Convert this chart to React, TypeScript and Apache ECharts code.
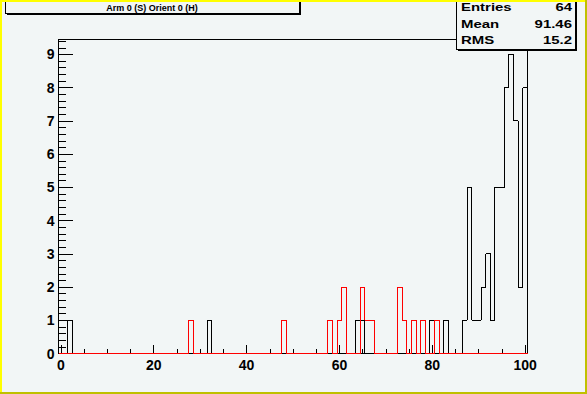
import React, { useEffect, useRef } from 'react';
import * as echarts from 'echarts';

// Histogram bins (bin centres, 1 unit wide, range -0.5..100.5) and counts
const blackBins = [2, 32, 64, 65, 80, 83, 87, 88, 89, 90, 91, 92, 93, 94, 95, 96, 97, 98, 99, 100];
const blackCounts = [1, 1, 1, 1, 1, 1, 1, 5, 1, 1, 2, 3, 1, 5, 5, 8, 9, 7, 2, 8];
const redBins = [28, 48, 58, 60, 61, 65, 66, 67, 73, 74, 76, 78, 81];
const redCounts = [1, 1, 1, 1, 2, 2, 1, 1, 2, 1, 1, 1, 1];

const title = 'Arm 0 (S) Orient 0 (H)';
const statNames = ['Entries', 'Mean', 'RMS'];
const statValues = ['64', '91.46', '15.2'];

const NBINS = 101;
const XMIN = -0.5;
const XMAX = 100.5;
const YMAX = 9.45;

function stepData(bins: number[], counts: number[]) {
  const full = new Array(NBINS).fill(0);
  bins.forEach((b, i) => {
    full[b] = counts[i];
  });
  const pts: number[][] = full.map((c, i) => [i + XMIN, c]);
  pts.push([XMAX, 0]);
  return pts;
}

const BG = '#f2f6f6';
const FONT = 'Liberation Sans, Arial, Helvetica, sans-serif';

export default function App() {
  const ref = useRef<HTMLDivElement>(null);
  useEffect(() => {
    if (!ref.current) return;
    const chart = echarts.init(ref.current, undefined, { renderer: 'svg' });

    const L = 58.5;
    const T = 39.5;
    const W = 469;
    const H = 314;
    const B = T + H;
    const bw = W / (XMAX - XMIN);
    const uh = H / YMAX;

    const noAxis = { show: false, type: 'value' as const };
    const tickLbl = {
      color: '#000',
      fontSize: 14,
      fontWeight: 'bold' as const,
      fontFamily: FONT,
    };

    const statText: any[] = [];
    const rowY = [7, 24, 40.5];
    statNames.forEach((n, i) => {
      statText.push({
        type: 'text',
        x: 461,
        y: rowY[i],
        scaleX: 1.3,
        z: 110,
        style: {
          text: n,
          fill: '#000',
          font: `bold 11.5px ${FONT}`,
          textAlign: 'left',
          textVerticalAlign: 'middle',
          align: 'left',
          verticalAlign: 'middle',
        },
      });
      statText.push({
        type: 'text',
        x: 572,
        y: rowY[i],
        scaleX: 1.3,
        z: 110,
        style: {
          text: statValues[i],
          fill: '#000',
          font: `bold 11.5px ${FONT}`,
          textAlign: 'right',
          textVerticalAlign: 'middle',
          align: 'right',
          verticalAlign: 'middle',
        },
      });
    });

    const option: any = {
      animation: false,
      backgroundColor: BG,
      grid: [
        { left: L, top: T, width: W, height: H, show: true, borderColor: '#000', borderWidth: 1, backgroundColor: 'transparent', containLabel: false, outerBoundsMode: 'none' },
        { left: L + 0.5 * bw, top: T, width: 100 * bw, height: H, containLabel: false, outerBoundsMode: 'none' },
        { left: L, top: B - 9 * uh, width: W, height: 9 * uh, containLabel: false, outerBoundsMode: 'none' },
        { left: L, top: B - 9.4 * uh, width: W, height: 9.4 * uh, containLabel: false, outerBoundsMode: 'none' },
      ],
      xAxis: [
        { gridIndex: 0, type: 'value', min: XMIN, max: XMAX, show: false },
        {
          gridIndex: 1,
          type: 'value',
          min: 0,
          max: 100,
          interval: 20,
          axisLine: { show: false },
          splitLine: { show: false },
          axisTick: { show: true, inside: true, length: 9, lineStyle: { color: '#000', width: 1 } },
          minorTick: { show: true, splitNumber: 4, length: 4.5, lineStyle: { color: '#000', width: 1 } },
          axisLabel: { ...tickLbl, margin: 4 },
        },
        { gridIndex: 2, ...noAxis },
        { gridIndex: 3, ...noAxis },
      ],
      yAxis: [
        { gridIndex: 0, type: 'value', min: 0, max: YMAX, show: false },
        { gridIndex: 1, ...noAxis },
        {
          gridIndex: 2,
          type: 'value',
          min: 0,
          max: 9,
          interval: 1,
          axisLine: { show: false },
          splitLine: { show: false },
          axisTick: { show: true, inside: true, length: 14, lineStyle: { color: '#000', width: 1 } },
          axisLabel: { ...tickLbl, margin: 4 },
        },
        {
          gridIndex: 3,
          type: 'value',
          min: 0,
          max: 9.4,
          interval: 0.2,
          axisLine: { show: false },
          splitLine: { show: false },
          axisTick: { show: true, inside: true, length: 7, lineStyle: { color: '#000', width: 1 } },
          axisLabel: { show: false },
        },
      ],
      series: [
        {
          type: 'line',
          xAxisIndex: 0,
          yAxisIndex: 0,
          step: 'end',
          data: stepData(blackBins, blackCounts),
          showSymbol: false,
          symbol: 'none',
          clip: false,
          lineStyle: { color: '#000', width: 1 },
          z: 3,
        },
        {
          type: 'line',
          xAxisIndex: 0,
          yAxisIndex: 0,
          step: 'end',
          data: stepData(redBins, redCounts),
          showSymbol: false,
          symbol: 'none',
          clip: false,
          lineStyle: { color: '#ff0000', width: 1 },
          z: 4,
        },
      ],
      graphic: [
        // title pave
        { type: 'rect', z: 100, shape: { x: 7, y: -10, width: 294, height: 25 }, style: { fill: '#000' } },
        { type: 'rect', z: 101, shape: { x: 5.5, y: -10, width: 293.5, height: 23.5 }, style: { fill: BG, stroke: '#000', lineWidth: 1 } },
        {
          type: 'text',
          z: 102,
          x: 152,
          y: 8,
          style: {
            text: title,
            fill: '#000',
            font: `bold 9px ${FONT}`,
            textAlign: 'center',
            textVerticalAlign: 'middle',
            align: 'center',
            verticalAlign: 'middle',
          },
        },
        // stats pave
        { type: 'rect', z: 100, shape: { x: 458, y: -10, width: 119, height: 61 }, style: { fill: '#000' } },
        { type: 'rect', z: 101, shape: { x: 456.5, y: -10, width: 119, height: 59.5 }, style: { fill: BG, stroke: '#000', lineWidth: 1 } },
        ...statText,
        // canvas highlight border
        { type: 'rect', z: 200, shape: { x: 0, y: 0, width: 587, height: 2 }, style: { fill: '#ffff00' } },
        { type: 'rect', z: 200, shape: { x: 0, y: 0, width: 2, height: 394 }, style: { fill: '#ffff00' } },
        { type: 'rect', z: 201, shape: { x: 0, y: 392, width: 587, height: 2 }, style: { fill: '#c0c000' } },
        { type: 'rect', z: 201, shape: { x: 585, y: 0, width: 2, height: 394 }, style: { fill: '#c0c000' } },
      ],
    };
    chart.setOption(option);
    return () => chart.dispose();
  }, []);
  return (
    <>
      <style>{`#hist-chart svg path { shape-rendering: crispEdges; }`}</style>
      <div
        id="hist-chart"
        ref={ref}
        style={{ position: 'absolute', left: 0, top: 0, width: 587, height: 394 }}
      />
    </>
  );
}
